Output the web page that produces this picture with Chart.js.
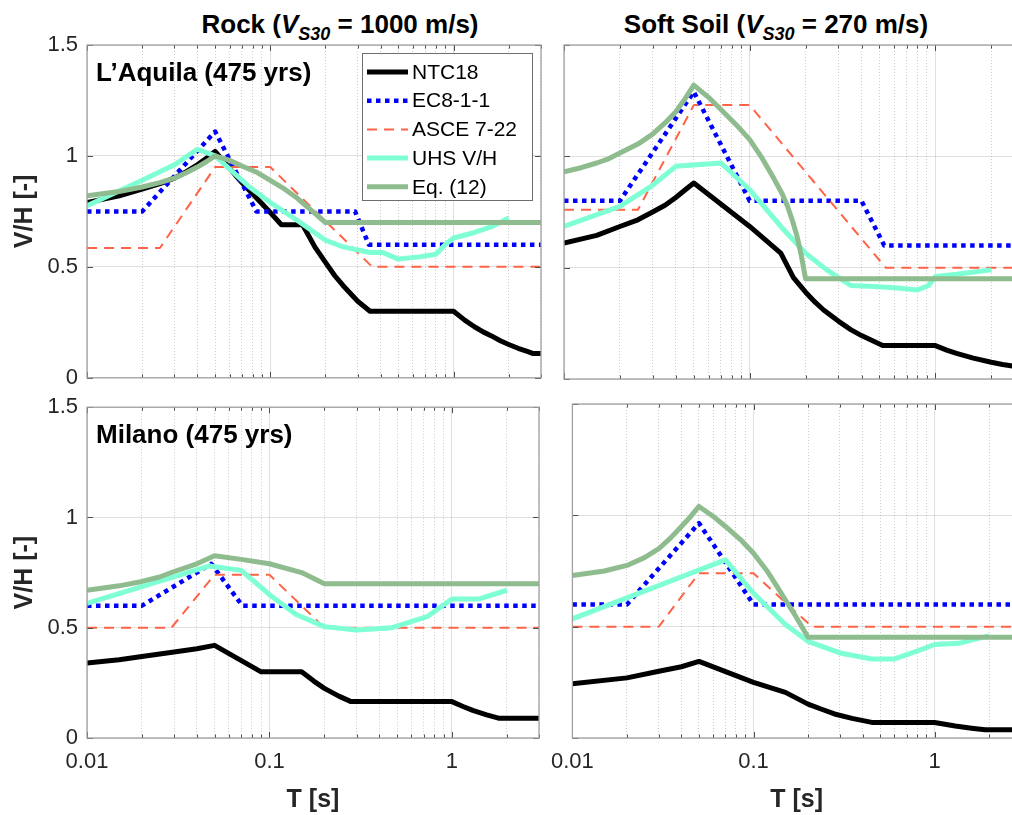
<!DOCTYPE html>
<html>
<head>
<meta charset="utf-8">
<script src="https://cdn.jsdelivr.net/npm/chart.js@4.4.0/dist/chart.umd.min.js"></script>
<style>
html, body { margin: 0; padding: 0; background: #fff; overflow: hidden; }
#wrap { position: relative; width: 1012px; height: 815px; overflow: hidden; font-family: 'Liberation Sans', Arial, sans-serif; }
#wrap canvas { position: absolute; }
.colTitle { position: absolute; top: 9px; font-weight: bold; font-size: 26px; color: #000; white-space: nowrap; transform: translateX(-50%); line-height: 30px; }
.colTitle sub { font-size: 18px; vertical-align: -7px; line-height: 0; }
</style>
</head>
<body>
<div id="wrap">
  <div class="colTitle" style="left:340px">Rock (<i>V<sub>S30</sub></i> = 1000 m/s)</div>
  <div class="colTitle" style="left:776px">Soft Soil (<i>V<sub>S30</sub></i> = 270 m/s)</div>
  <canvas id="tl" width="550" height="400" style="left:0;top:0"></canvas>
  <canvas id="tr" width="492" height="400" style="left:540px;top:0"></canvas>
  <canvas id="bl" width="550" height="430" style="left:0;top:385px"></canvas>
  <canvas id="br" width="492" height="430" style="left:540px;top:385px"></canvas>
</div>
<script>
// --- axes ticks
const xTickValues = [0.01, 0.02, 0.03, 0.04, 0.05, 0.06, 0.07, 0.08, 0.09,
                     0.1, 0.2, 0.3, 0.4, 0.5, 0.6, 0.7, 0.8, 0.9, 1, 2, 3];
const xMajorTicks = [0.01, 0.1, 1];
const xMajorLabels = ['0.01', '0.1', '1'];
const yTickValues = [0, 0.5, 1, 1.5];
const yTickLabels = ['0', '0.5', '1', '1.5'];

// --- series names (legend)
const seriesNames = ['NTC18', 'EC8-1-1', 'ASCE 7-22', 'UHS V/H', 'Eq. (12)'];

// --- L'Aquila, rock  [T (s), V/H]
const aqRockNTC = [[0.01,0.79],[0.015,0.82],[0.02,0.85],[0.025,0.875],[0.03,0.9],[0.035,0.93],[0.04,0.96],[0.045,0.99],[0.05,1.02],[0.07,0.88],[0.1,0.745],[0.115,0.69],[0.15,0.69],[0.175,0.59],[0.2,0.52],[0.225,0.46],[0.25,0.415],[0.3,0.345],[0.35,0.3],[1,0.3],[1.15,0.26],[1.3,0.23],[1.45,0.207],[1.6,0.19],[1.8,0.167],[2,0.15],[2.25,0.133],[2.5,0.12],[2.7,0.11],[3,0.11]];
const aqRockEC8 = [[0.01,0.75],[0.02,0.75],[0.05,1.11],[0.084,0.75],[0.29,0.75],[0.345,0.6],[3,0.6]];
const aqRockASCE = [[0.01,0.585],[0.025,0.585],[0.05,0.95],[0.1,0.95],[0.36,0.5],[3,0.5]];
const aqRockUHS = [[0.01,0.775],[0.02,0.89],[0.03,0.96],[0.04,1.03],[0.05,1.0],[0.077,0.86],[0.1,0.79],[0.14,0.71],[0.2,0.62],[0.25,0.59],[0.35,0.565],[0.41,0.565],[0.5,0.535],[0.65,0.545],[0.8,0.557],[0.9,0.6],[1,0.63],[1.3,0.655],[1.6,0.68],[2,0.72]];
const aqRockEq12 = [[0.01,0.82],[0.015,0.84],[0.02,0.86],[0.025,0.88],[0.03,0.9],[0.035,0.925],[0.04,0.95],[0.045,0.975],[0.05,1.0],[0.06,0.98],[0.07,0.955],[0.085,0.925],[0.1,0.89],[0.12,0.85],[0.14,0.81],[0.17,0.75],[0.2,0.7],[3,0.7]];

// --- L'Aquila, soft soil
const aqSoilNTC = [[0.01,0.61],[0.015,0.645],[0.02,0.685],[0.025,0.715],[0.03,0.75],[0.035,0.78],[0.04,0.815],[0.045,0.85],[0.05,0.88],[0.1,0.685],[0.147,0.565],[0.172,0.455],[0.2,0.39],[0.225,0.345],[0.25,0.31],[0.3,0.26],[0.35,0.222],[0.4,0.195],[0.52,0.15],[1,0.15],[1.15,0.13],[1.3,0.115],[1.6,0.094],[2,0.075],[2.3,0.065],[2.6,0.058],[3,0.056]];
const aqSoilEC8 = [[0.01,0.8],[0.02,0.8],[0.05,1.29],[0.1,0.8],[0.4,0.8],[0.53,0.6],[3,0.6]];
const aqSoilASCE = [[0.01,0.76],[0.025,0.76],[0.05,1.23],[0.1,1.23],[0.54,0.5],[3,0.5]];
const aqSoilUHS = [[0.01,0.685],[0.02,0.775],[0.03,0.87],[0.04,0.955],[0.07,0.97],[0.1,0.85],[0.147,0.685],[0.2,0.565],[0.26,0.49],[0.35,0.42],[0.47,0.415],[0.6,0.41],[0.8,0.4],[0.92,0.42],[1,0.46],[1.3,0.47],[2,0.49]];
const aqSoilEq12 = [[0.01,0.93],[0.0125,0.95],[0.015,0.97],[0.0175,0.99],[0.02,1.015],[0.025,1.055],[0.03,1.1],[0.035,1.15],[0.04,1.2],[0.045,1.26],[0.05,1.32],[0.06,1.265],[0.07,1.21],[0.085,1.14],[0.1,1.075],[0.115,1.0],[0.135,0.9],[0.15,0.83],[0.16,0.775],[0.17,0.71],[0.18,0.64],[0.19,0.55],[0.2,0.45],[3,0.45]];

// --- Milano, rock
const miRockNTC = [[0.01,0.34],[0.015,0.355],[0.02,0.37],[0.03,0.39],[0.04,0.405],[0.05,0.42],[0.09,0.3],[0.15,0.3],[0.175,0.258],[0.2,0.225],[0.24,0.19],[0.28,0.165],[1,0.165],[1.15,0.143],[1.3,0.125],[1.55,0.105],[1.8,0.09],[3,0.09]];
const miRockEC8 = [[0.01,0.6],[0.02,0.6],[0.048,0.79],[0.071,0.6],[3,0.6]];
const miRockASCE = [[0.01,0.5],[0.029,0.5],[0.05,0.74],[0.1,0.74],[0.2,0.5],[3,0.5]];
const miRockUHS = [[0.01,0.61],[0.047,0.78],[0.07,0.76],[0.1,0.65],[0.14,0.56],[0.2,0.505],[0.3,0.49],[0.47,0.5],[0.73,0.55],[1,0.63],[1.4,0.63],[2,0.67]];
const miRockEq12 = [[0.01,0.67],[0.015,0.69],[0.02,0.71],[0.025,0.73],[0.03,0.755],[0.04,0.79],[0.05,0.826],[0.07,0.81],[0.1,0.79],[0.15,0.75],[0.2,0.7],[3,0.7]];

// --- Milano, soft soil
const miSoilNTC = [[0.01,0.244],[0.02,0.27],[0.03,0.3],[0.04,0.32],[0.05,0.344],[0.1,0.25],[0.15,0.205],[0.2,0.152],[0.24,0.128],[0.28,0.108],[0.35,0.088],[0.45,0.07],[1,0.07],[1.3,0.054],[1.6,0.044],[1.9,0.037],[3,0.037]];
const miSoilEC8 = [[0.01,0.6],[0.02,0.6],[0.05,0.965],[0.1,0.6],[3,0.6]];
const miSoilASCE = [[0.01,0.5],[0.03,0.5],[0.05,0.74],[0.1,0.74],[0.21,0.5],[3,0.5]];
const miSoilUHS = [[0.01,0.535],[0.07,0.8],[0.1,0.65],[0.15,0.51],[0.2,0.434],[0.3,0.382],[0.45,0.355],[0.6,0.355],[0.8,0.39],[1,0.42],[1.36,0.425],[2,0.46]];
const miSoilEq12 = [[0.01,0.73],[0.015,0.75],[0.02,0.775],[0.025,0.81],[0.03,0.85],[0.035,0.9],[0.04,0.95],[0.045,0.995],[0.05,1.04],[0.06,0.995],[0.07,0.95],[0.085,0.89],[0.1,0.83],[0.12,0.745],[0.135,0.68],[0.15,0.62],[0.17,0.55],[0.185,0.5],[0.2,0.452],[3,0.452]];

// stile garis (urutan sama dengan legend)
const lineStyles = [
    { color: '#000000', width: 5,   dash: [] },
    { color: '#0000ff', width: 4.5, dash: [4.5, 4.5] },
    { color: '#ff6347', width: 2,   dash: [10, 7] },
    { color: '#7fffd4', width: 5,   dash: [] },
    { color: '#8fbc8f', width: 5,   dash: [] }
];

const FONT = "'Liberation Sans', Arial, sans-serif";
const isMajor = v => Math.abs(Math.log10(v) - Math.round(Math.log10(v))) < 1e-6;

// kotak axes + tick ke dalam (gaya MATLAB)
const axesBox = {
    id: 'axesBox',
    afterDatasetsDraw(chart) {
        const { ctx, chartArea: a, scales } = chart;
        ctx.save();
        ctx.strokeStyle = '#4d4d4d';
        ctx.lineWidth = 1;
        ctx.beginPath();
        scales.x.ticks.forEach(t => {
            const px = Math.round(scales.x.getPixelForValue(t.value)) + 0.5;
            const len = isMajor(t.value) ? 6 : 3.5;
            ctx.moveTo(px, a.bottom); ctx.lineTo(px, a.bottom - len);
            ctx.moveTo(px, a.top); ctx.lineTo(px, a.top + len);
        });
        scales.y.ticks.forEach(t => {
            const py = Math.round(scales.y.getPixelForValue(t.value)) + 0.5;
            ctx.moveTo(a.left, py); ctx.lineTo(a.left + 6, py);
            ctx.moveTo(a.right, py); ctx.lineTo(a.right - 6, py);
        });
        ctx.stroke();
        ctx.strokeStyle = '#a0a0a0';
        ctx.lineWidth = 1.3;
        ctx.strokeRect(a.left, a.top, a.right - a.left, a.bottom - a.top);
        ctx.restore();
    }
};

// label lokasi di dalam panel
const panelLabel = {
    id: 'panelLabel',
    afterDraw(chart, args, opts) {
        if (!opts.text) return;
        const { ctx, chartArea: a } = chart;
        ctx.save();
        ctx.font = 'bold 26px ' + FONT;
        ctx.fillStyle = '#000';
        ctx.textBaseline = 'alphabetic';
        ctx.fillText(opts.text, a.left + 9, a.top + 36);
        ctx.restore();
    }
};

// legend di dalam panel kiri atas
const boxLegend = {
    id: 'boxLegend',
    afterDraw(chart, args, opts) {
        if (!opts.show) return;
        const { ctx, chartArea: a } = chart;
        const x0 = a.left + 275, x1 = a.left + 445, y0 = a.top + 8, y1 = a.top + 155;
        ctx.save();
        ctx.fillStyle = '#fff';
        ctx.fillRect(x0, y0, x1 - x0, y1 - y0);
        ctx.strokeStyle = '#6e6e6e';
        ctx.lineWidth = 1;
        ctx.strokeRect(x0 + 0.5, y0 + 0.5, x1 - x0, y1 - y0);
        ctx.font = '21px ' + FONT;
        ctx.textBaseline = 'middle';
        chart.data.datasets.forEach((ds, i) => {
            const yy = y0 + 19 + i * 28.7;
            ctx.beginPath();
            ctx.strokeStyle = ds.borderColor;
            ctx.lineWidth = ds.borderWidth;
            ctx.setLineDash(ds.borderDash);
            ctx.moveTo(x0 + 5, yy);
            ctx.lineTo(x0 + 46, yy);
            ctx.stroke();
            ctx.setLineDash([]);
            ctx.fillStyle = '#000';
            ctx.fillText(ds.label, x0 + 50, yy + 1);
        });
        ctx.restore();
    }
};

function makePanel(id, series, cfg) {
    const datasets = series.map((pts, i) => ({
        label: seriesNames[i],
        data: pts.map(p => ({ x: p[0], y: p[1] })),
        borderColor: lineStyles[i].color,
        borderWidth: lineStyles[i].width,
        borderDash: lineStyles[i].dash,
        borderCapStyle: 'butt',
        borderJoinStyle: 'round',
        pointRadius: 0,
        tension: 0,
        fill: false,
        order: series.length - i
    }));

    return new Chart(document.getElementById(id), {
        type: 'line',
        data: { datasets: datasets },
        plugins: [axesBox, panelLabel, boxLegend],
        options: {
            responsive: false,
            animation: false,
            devicePixelRatio: 1,
            layout: { padding: { top: cfg.padTop, right: cfg.padRight, left: 0, bottom: 0 } },
            plugins: {
                legend: { display: false },
                tooltip: { enabled: false },
                panelLabel: { text: cfg.label || '' },
                boxLegend: { show: !!cfg.legend }
            },
            scales: {
                x: {
                    type: 'logarithmic',
                    min: 0.01,
                    max: 3,
                    afterBuildTicks: s => { s.ticks = xTickValues.map(v => ({ value: v })); },
                    afterFit: s => { s.height = cfg.xAxisH; },
                    ticks: {
                        display: cfg.showX,
                        autoSkip: false,
                        maxRotation: 0,
                        padding: 11,
                        color: '#262626',
                        font: { family: FONT, size: 22 },
                        callback: v => {
                            const k = xMajorTicks.findIndex(m => Math.abs(m - v) < 1e-9);
                            return k >= 0 ? xMajorLabels[k] : '';
                        }
                    },
                    grid: {
                        drawTicks: false,
                        lineWidth: 1,
                        color: c => (c.tick && !isMajor(c.tick.value)) ? 'rgba(0,0,0,0.2)' : 'rgba(0,0,0,0.12)'
                    },
                    border: {
                        display: false,
                        dash: c => (c.tick && !isMajor(c.tick.value)) ? [1, 2] : []
                    },
                    title: {
                        display: cfg.showX,
                        text: 'T [s]',
                        color: '#262626',
                        font: { family: FONT, size: 25, weight: 'bold' },
                        padding: { top: 3, bottom: 0 }
                    }
                },
                y: {
                    min: 0,
                    max: 1.5,
                    afterBuildTicks: s => { s.ticks = yTickValues.map(v => ({ value: v })); },
                    afterFit: s => { s.width = cfg.yAxisW; },
                    ticks: {
                        display: cfg.showY,
                        padding: 9,
                        color: '#262626',
                        font: { family: FONT, size: 22 },
                        callback: v => yTickLabels[yTickValues.indexOf(v)]
                    },
                    grid: { drawTicks: false, lineWidth: 1, color: 'rgba(0,0,0,0.12)' },
                    border: { display: false },
                    title: {
                        display: cfg.showY,
                        text: 'V/H [-]',
                        color: '#262626',
                        font: { family: FONT, size: 25, weight: 'bold' },
                        padding: { top: 10, bottom: 0 }
                    }
                }
            }
        }
    });
}

makePanel('tl', [aqRockNTC, aqRockEC8, aqRockASCE, aqRockUHS, aqRockEq12],
    { padTop: 45, padRight: 9, yAxisW: 87, xAxisH: 21, showX: false, showY: true, label: 'L\u2019Aquila (475 yrs)', legend: true });
makePanel('tr', [aqSoilNTC, aqSoilEC8, aqSoilASCE, aqSoilUHS, aqSoilEq12],
    { padTop: 45, padRight: 8, yAxisW: 24, xAxisH: 21, showX: false, showY: false });
makePanel('bl', [miRockNTC, miRockEC8, miRockASCE, miRockUHS, miRockEq12],
    { padTop: 19, padRight: 9, yAxisW: 87, xAxisH: 77, showX: true, showY: true, label: 'Milano (475 yrs)' });
makePanel('br', [miSoilNTC, miSoilEC8, miSoilASCE, miSoilUHS, miSoilEq12],
    { padTop: 19, padRight: 8, yAxisW: 24, xAxisH: 77, showX: true, showY: false });
</script>
</body>
</html>
